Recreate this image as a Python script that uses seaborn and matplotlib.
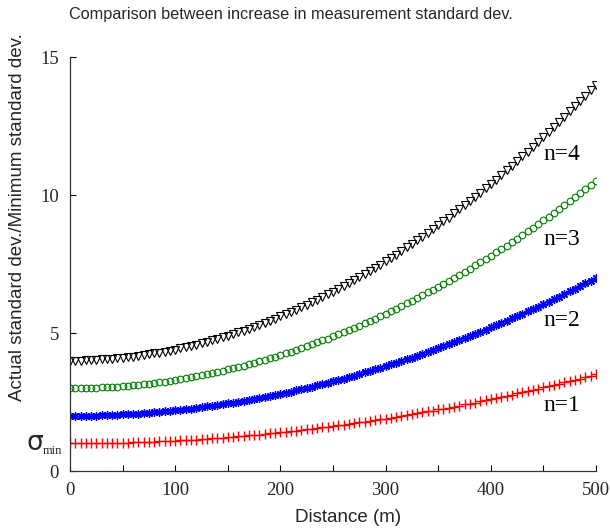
import matplotlib
matplotlib.use("Agg")
import matplotlib.pyplot as plt
import matplotlib.transforms as mtransforms
import seaborn as sns
import pandas as pd

distance = list(range(0, 501, 5))

n1 = [1.00, 1.00, 1.00, 1.00, 1.00, 1.01, 1.01, 1.01, 1.02, 1.02, 1.03, 1.03, 1.04, 1.04, 1.05, 1.06, 1.06, 1.07, 1.08, 1.09, 1.10,
      1.11, 1.12, 1.13, 1.14, 1.16, 1.17, 1.18, 1.20, 1.21, 1.23, 1.24, 1.26, 1.27, 1.29, 1.31, 1.32, 1.34, 1.36, 1.38, 1.40,
      1.42, 1.44, 1.46, 1.48, 1.51, 1.53, 1.55, 1.58, 1.60, 1.63, 1.65, 1.68, 1.70, 1.73, 1.76, 1.78, 1.81, 1.84, 1.87, 1.90,
      1.93, 1.96, 1.99, 2.02, 2.06, 2.09, 2.12, 2.16, 2.19, 2.23, 2.26, 2.30, 2.33, 2.37, 2.41, 2.44, 2.48, 2.52, 2.56, 2.60,
      2.64, 2.68, 2.72, 2.76, 2.81, 2.85, 2.89, 2.94, 2.98, 3.03, 3.07, 3.12, 3.16, 3.21, 3.26, 3.30, 3.35, 3.40, 3.45, 3.50]

n2 = [2.00, 2.00, 2.00, 2.00, 2.01, 2.01, 2.02, 2.02, 2.03, 2.04, 2.05, 2.06, 2.07, 2.08, 2.10, 2.11, 2.13, 2.14, 2.16, 2.18, 2.20,
      2.22, 2.24, 2.26, 2.29, 2.31, 2.34, 2.36, 2.39, 2.42, 2.45, 2.48, 2.51, 2.54, 2.58, 2.61, 2.65, 2.68, 2.72, 2.76, 2.80,
      2.84, 2.88, 2.92, 2.97, 3.01, 3.06, 3.10, 3.15, 3.20, 3.25, 3.30, 3.35, 3.40, 3.46, 3.51, 3.57, 3.62, 3.68, 3.74, 3.80,
      3.86, 3.92, 3.98, 4.05, 4.11, 4.18, 4.24, 4.31, 4.38, 4.45, 4.52, 4.59, 4.66, 4.74, 4.81, 4.89, 4.96, 5.04, 5.12, 5.20,
      5.28, 5.36, 5.44, 5.53, 5.61, 5.70, 5.78, 5.87, 5.96, 6.05, 6.14, 6.23, 6.32, 6.42, 6.51, 6.61, 6.70, 6.80, 6.90, 7.00]

n3 = [3.00, 3.00, 3.00, 3.01, 3.01, 3.02, 3.03, 3.04, 3.05, 3.06, 3.08, 3.09, 3.11, 3.13, 3.15, 3.17, 3.19, 3.22, 3.24, 3.27, 3.30,
      3.33, 3.36, 3.40, 3.43, 3.47, 3.51, 3.55, 3.59, 3.63, 3.68, 3.72, 3.77, 3.82, 3.87, 3.92, 3.97, 4.03, 4.08, 4.14, 4.20,
      4.26, 4.32, 4.39, 4.45, 4.52, 4.59, 4.66, 4.73, 4.80, 4.88, 4.95, 5.03, 5.11, 5.19, 5.27, 5.35, 5.44, 5.52, 5.61, 5.70,
      5.79, 5.88, 5.98, 6.07, 6.17, 6.27, 6.37, 6.47, 6.57, 6.68, 6.78, 6.89, 7.00, 7.11, 7.22, 7.33, 7.45, 7.56, 7.68, 7.80,
      7.92, 8.04, 8.17, 8.29, 8.42, 8.55, 8.68, 8.81, 8.94, 9.08, 9.21, 9.35, 9.49, 9.63, 9.77, 9.91, 10.06, 10.20, 10.35, 10.50]

n4 = [4.00, 4.00, 4.00, 4.01, 4.02, 4.03, 4.04, 4.05, 4.06, 4.08, 4.10, 4.12, 4.14, 4.17, 4.20, 4.23, 4.26, 4.29, 4.32, 4.36, 4.40,
      4.44, 4.48, 4.53, 4.58, 4.63, 4.68, 4.73, 4.78, 4.84, 4.90, 4.96, 5.02, 5.09, 5.16, 5.23, 5.30, 5.37, 5.44, 5.52, 5.60,
      5.68, 5.76, 5.85, 5.94, 6.03, 6.12, 6.21, 6.30, 6.40, 6.50, 6.60, 6.70, 6.81, 6.92, 7.03, 7.14, 7.25, 7.36, 7.48, 7.60,
      7.72, 7.84, 7.97, 8.10, 8.23, 8.36, 8.49, 8.62, 8.76, 8.90, 9.04, 9.18, 9.33, 9.48, 9.63, 9.78, 9.93, 10.08, 10.24, 10.40,
      10.56, 10.72, 10.89, 11.06, 11.23, 11.40, 11.57, 11.74, 11.92, 12.10, 12.28, 12.46, 12.65, 12.84, 13.03, 13.22, 13.41, 13.60, 13.80, 14.00]

series_names = ["n=1", "n=2", "n=3", "n=4"]
series_values = [n1, n2, n3, n4]
label_pos = [(450, 2.39), (450, 5.47), (450, 8.37), (450, 11.45)]

x_ticks = [0, 100, 200, 300, 400, 500]
x_minor = [50, 150, 250, 350, 450]
y_ticks = [0, 5, 10, 15]

sns.set_theme(style="white")
plt.rcParams["font.family"] = ["Liberation Serif", "DejaVu Serif"]

fig = plt.figure(figsize=(6.1, 5.3), dpi=100)
ax = fig.add_axes([70 / 610, 1 - 471 / 530, 526 / 610, 414 / 530])

styles = [
    dict(marker="+", color="#ff0000", markeredgecolor="#ff0000", markersize=6.5, markeredgewidth=1.0),
    dict(marker=(8, 2, 0), color="#0000ff", markeredgecolor="#0000ff", markersize=6, markeredgewidth=1.0),
    dict(marker="o", color="#008000", markerfacecolor="none", markeredgecolor="#008000",
         markersize=4.8, markeredgewidth=0.8),
    dict(marker="v", color="black", markerfacecolor="none", markeredgecolor="black",
         markersize=6, markeredgewidth=0.8),
]

for name, vals, st in zip(series_names, series_values, styles):
    df = pd.DataFrame({"Distance": distance, "Ratio": vals})
    sns.lineplot(data=df, x="Distance", y="Ratio", ax=ax, linestyle="", **st)

for name, (lx, ly) in zip(series_names, label_pos):
    ax.text(lx, ly, name, fontsize=17, ha="left", va="center",
            family=["Liberation Serif"], color="black")

ax.set_xlim(0, 500)
ax.set_ylim(0, 15)
ax.set_xticks(x_ticks)
ax.set_xticks(x_minor, minor=True)
ax.set_yticks(y_ticks)
ax.set_xticklabels([str(v) for v in x_ticks], fontsize=13.5, family="Liberation Serif")
ax.set_yticklabels([str(v) for v in y_ticks], fontsize=13.5, family="Liberation Serif")
ax.tick_params(axis="both", which="both", direction="in", length=4, width=0.8,
               color="black", bottom=True, left=True)
ax.tick_params(axis="x", which="major", pad=8)
ax.tick_params(axis="y", which="major", pad=8)
for s in ["top", "right"]:
    ax.spines[s].set_visible(False)
for s in ["left", "bottom"]:
    ax.spines[s].set_color("#333333")
    ax.spines[s].set_linewidth(0.9)
ax.set_xlabel("")
ax.set_ylabel("")

trans = mtransforms.blended_transform_factory(ax.transAxes, ax.transData)
ax.text(-27 / 526, 1.0, "σ", transform=trans, fontsize=19, ha="right", va="center",
        family=["DejaVu Sans"])
ax.text(-27 / 526, 0.72, "min", transform=trans, fontsize=9, ha="left", va="center",
        family=["Liberation Serif"])

fig.text(348 / 610, 1 - 517 / 530, "Distance (m)", fontsize=13.5, ha="center", va="center",
         family=["Liberation Sans"])
fig.text(18 / 610, 1 - 217 / 530, "Actual standard dev./Minimum standard dev.", fontsize=13.5,
         rotation=90, ha="center", va="center", family=["Liberation Sans"])
fig.text(291 / 610, 1 - 14 / 530, "Comparison between increase in measurement standard dev.",
         fontsize=11.7, ha="center", va="center", family=["Liberation Sans"])

fig.savefig("out.png", dpi=100)
